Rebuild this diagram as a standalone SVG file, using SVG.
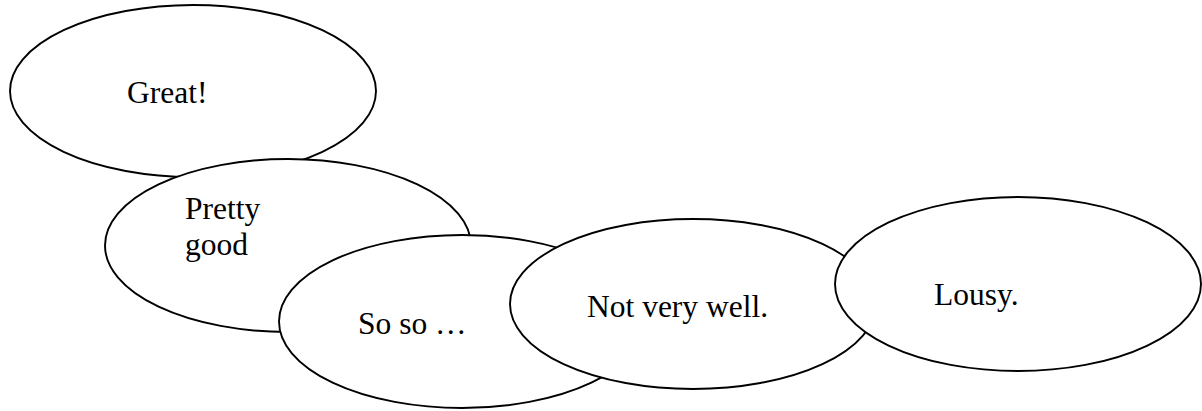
<svg xmlns="http://www.w3.org/2000/svg" width="1202" height="411" viewBox="0 0 1202 411">
<style>
.n{fill:#fff;stroke:#000;stroke-width:1.9}
.t{font-family:"Liberation Serif","Times New Roman",serif;font-size:31.5px;fill:#000}
</style>
<rect width="1202" height="411" fill="#fff"/>
<g id="great"><ellipse class="n" cx="193" cy="91" rx="183" ry="86"/><text class="t" x="127" y="103">Great!</text></g>
<g id="pretty-good"><ellipse class="n" cx="288" cy="245.5" rx="183" ry="86.5"/><text class="t" x="185" y="219">Pretty</text><text class="t" x="185" y="255">good</text></g>
<g id="so-so"><ellipse class="n" cx="462" cy="321.5" rx="183" ry="86.5"/><text class="t" x="358" y="334">So so …</text></g>
<g id="not-very-well"><ellipse class="n" cx="693" cy="304" rx="183" ry="85"/><text class="t" x="587" y="317">Not very well.</text></g>
<g id="lousy"><ellipse class="n" cx="1018" cy="284" rx="183" ry="87"/><text class="t" x="934" y="305">Lousy.</text></g>
<g id="connectors"/>
</svg>
